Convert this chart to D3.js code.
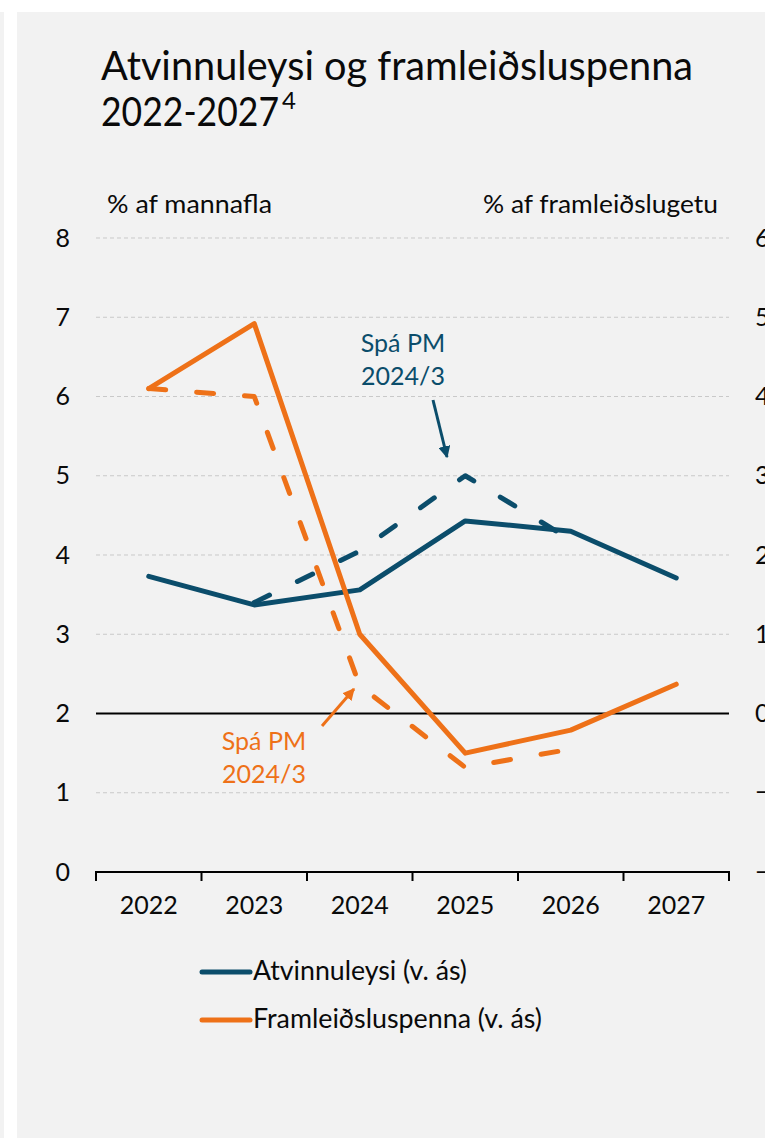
<!DOCTYPE html>
<html>
<head>
<meta charset="utf-8">
<script src="https://cdn.jsdelivr.net/npm/d3@7"></script>
<style>
  html, body { margin: 0; padding: 0; background: #ffffff; }
  svg { display: block; }
  text { font-family: Lato, "Open Sans", sans-serif; }
</style>
</head>
<body>
<svg id="chart" width="765" height="1138"></svg>
<script>
// ---- data ----
const years = ["2022", "2023", "2024", "2025", "2026", "2027"];
const unemployment     = [3.73, 3.37, 3.56, 4.43, 4.30, 3.71];      // left axis
const unemploymentPrev = [null, 3.40, 4.05, 5.00, 4.19, null];      // Spá PM 2024/3
const outputGap        = [4.10, 4.92, 1.00, -0.50, -0.21, 0.37];    // right axis
const outputGapPrev    = [4.10, 4.00, 0.35, -0.68, -0.45, null];    // Spá PM 2024/3
const leftTicks  = [0, 1, 2, 3, 4, 5, 6, 7, 8];
const rightTicks = [-2, -1, 0, 1, 2, 3, 4, 5, 6];
const titleLine1 = "Atvinnuleysi og framleiðsluspenna";
const titleLine2 = "2022-2027";
const titleSup = "4";
const leftTitle = "% af mannafla";
const rightTitle = "% af framleiðslugetu";
const annotationLines = ["Spá PM", "2024/3"];
const legendLabels = ["Atvinnuleysi (v. ás)", "Framleiðsluspenna (v. ás)"];

const TEAL = "#0b4d6b";
const ORANGE = "#ee7118";
const INK = "#0a0a0a";

const svg = d3.select("#chart");

// background panel
svg.append("rect").attr("x", 0).attr("y", 12).attr("width", 4).attr("height", 1126).attr("fill", "#f2f2f2");
svg.append("rect").attr("x", 17).attr("y", 12).attr("width", 748).attr("height", 1126).attr("fill", "#f2f2f2");

// scales
const x = d3.scaleBand().domain(years).range([96, 729]);
const yL = d3.scaleLinear().domain([0, 8]).range([872, 238]);
const yR = d3.scaleLinear().domain([-2, 6]).range([872, 238]);
const cx = d => x(d) + x.bandwidth() / 2;

// title
svg.append("text").attr("x", 101).attr("y", 80)
  .attr("font-size", 41).attr("fill", INK).text(titleLine1)
  .attr("textLength", 592).attr("lengthAdjust", "spacingAndGlyphs");
const t2 = svg.append("text").attr("x", 101).attr("y", 126)
  .attr("font-size", 41).attr("fill", INK);
t2.append("tspan").text(titleLine2).attr("textLength", 178).attr("lengthAdjust", "spacingAndGlyphs");
t2.append("tspan").text(titleSup).attr("font-size", 24).attr("dy", -17).attr("dx", 3);

// axis titles
svg.append("text").attr("x", 107).attr("y", 213).attr("font-size", 25).attr("fill", INK)
  .text(leftTitle).attr("textLength", 165).attr("lengthAdjust", "spacingAndGlyphs");
svg.append("text").attr("x", 718).attr("y", 213).attr("font-size", 25).attr("text-anchor", "end").attr("fill", INK)
  .text(rightTitle).attr("textLength", 235).attr("lengthAdjust", "spacingAndGlyphs");

// gridlines
svg.append("g").selectAll("line").data(leftTicks.filter(v => v !== 0 && v !== 2)).join("line")
  .attr("x1", 96).attr("x2", 729)
  .attr("y1", d => yL(d)).attr("y2", d => yL(d))
  .attr("stroke", "#c9c9c9").attr("stroke-width", 1).attr("stroke-dasharray", "4,3");

// zero line of right axis
svg.append("line").attr("x1", 96).attr("x2", 729).attr("y1", yR(0)).attr("y2", yR(0))
  .attr("stroke", "#000").attr("stroke-width", 2);

// left axis labels
const leftAxis = d3.axisLeft(yL).tickValues(leftTicks).tickSize(0).tickPadding(0).tickFormat(d3.format("d"));
const gL = svg.append("g").attr("transform", "translate(70,0)").call(leftAxis);
gL.select(".domain").remove();
gL.selectAll("text").attr("font-size", 25).attr("fill", INK).attr("font-family", "Lato");

// right axis labels (cut by the picture edge, as in the original)
const rightAxis = d3.axisRight(yR).tickValues(rightTicks).tickSize(0).tickPadding(0).tickFormat(d3.format("d"));
const gR = svg.append("g").attr("transform", "translate(755,0)").call(rightAxis);
gR.select(".domain").remove();
gR.selectAll("text").attr("font-size", 25).attr("fill", INK).attr("font-family", "Lato");

// x axis
const xAxis = d3.axisBottom(x).tickSize(0).tickPadding(24);
const gX = svg.append("g").attr("transform", "translate(0,872)").call(xAxis);
gX.select(".domain").remove();
gX.selectAll("text").attr("font-size", 25).attr("fill", INK).attr("font-family", "Lato");
svg.append("line").attr("x1", 96).attr("x2", 729).attr("y1", 872).attr("y2", 872)
  .attr("stroke", "#000").attr("stroke-width", 2);
const boundaries = years.map(d => x(d)).concat([x(years[years.length - 1]) + x.bandwidth()]);
svg.append("g").selectAll("line").data(boundaries).join("line")
  .attr("x1", d => d).attr("x2", d => d).attr("y1", 871).attr("y2", 881)
  .attr("stroke", "#000").attr("stroke-width", 2);

// lines
function drawLine(values, scale, color, dashed) {
  const pts = years.map((yv, i) => ({ x: cx(yv), v: values[i] })).filter(p => p.v !== null);
  const gen = d3.line().x(p => p.x).y(p => scale(p.v));
  svg.append("path").datum(pts).attr("d", gen)
    .attr("fill", "none").attr("stroke", color).attr("stroke-width", 5)
    .attr("stroke-linecap", "round").attr("stroke-linejoin", "round")
    .attr("stroke-dasharray", dashed ? "17,31" : null);
}
drawLine(outputGapPrev, yR, ORANGE, true);
drawLine(unemploymentPrev, yL, TEAL, true);
drawLine(unemployment, yL, TEAL, false);
drawLine(outputGap, yR, ORANGE, false);

// arrows
const defs = svg.append("defs");
function marker(id, color) {
  defs.append("marker").attr("id", id).attr("viewBox", "0 0 10 10")
    .attr("refX", 9).attr("refY", 5).attr("markerWidth", 4).attr("markerHeight", 4)
    .attr("markerUnits", "strokeWidth").attr("orient", "auto")
    .append("path").attr("d", "M0,0 L10,5 L0,10 z").attr("fill", color);
}
marker("arrTeal", TEAL);
marker("arrOrange", ORANGE);
svg.append("line").attr("x1", 433).attr("y1", 400).attr("x2", 447).attr("y2", 457)
  .attr("stroke", TEAL).attr("stroke-width", 3).attr("marker-end", "url(#arrTeal)");
svg.append("line").attr("x1", 322).attr("y1", 726).attr("x2", 354).attr("y2", 689)
  .attr("stroke", ORANGE).attr("stroke-width", 3).attr("marker-end", "url(#arrOrange)");

// annotations
svg.append("g").selectAll("text").data(annotationLines).join("text")
  .attr("x", 403).attr("y", (d, i) => 352 + i * 33).attr("text-anchor", "middle")
  .attr("font-size", 25).attr("fill", TEAL).text(d => d);
svg.append("g").selectAll("text").data(annotationLines).join("text")
  .attr("x", 264).attr("y", (d, i) => 750 + i * 33).attr("text-anchor", "middle")
  .attr("font-size", 25).attr("fill", ORANGE).text(d => d);

// legend
const legColors = [TEAL, ORANGE];
const legWidths = [214, 289];
const leg = svg.append("g").selectAll("g").data(legendLabels).join("g")
  .attr("transform", (d, i) => `translate(0,${972 + i * 48})`);
leg.append("line").attr("x1", 202).attr("x2", 250).attr("y1", 0).attr("y2", 0)
  .attr("stroke", (d, i) => legColors[i]).attr("stroke-width", 5).attr("stroke-linecap", "round");
leg.append("text").attr("x", 253).attr("y", 8).attr("font-size", 26).attr("fill", INK)
  .attr("textLength", (d, i) => legWidths[i]).attr("lengthAdjust", "spacingAndGlyphs")
  .text(d => d);
</script>
</body>
</html>
